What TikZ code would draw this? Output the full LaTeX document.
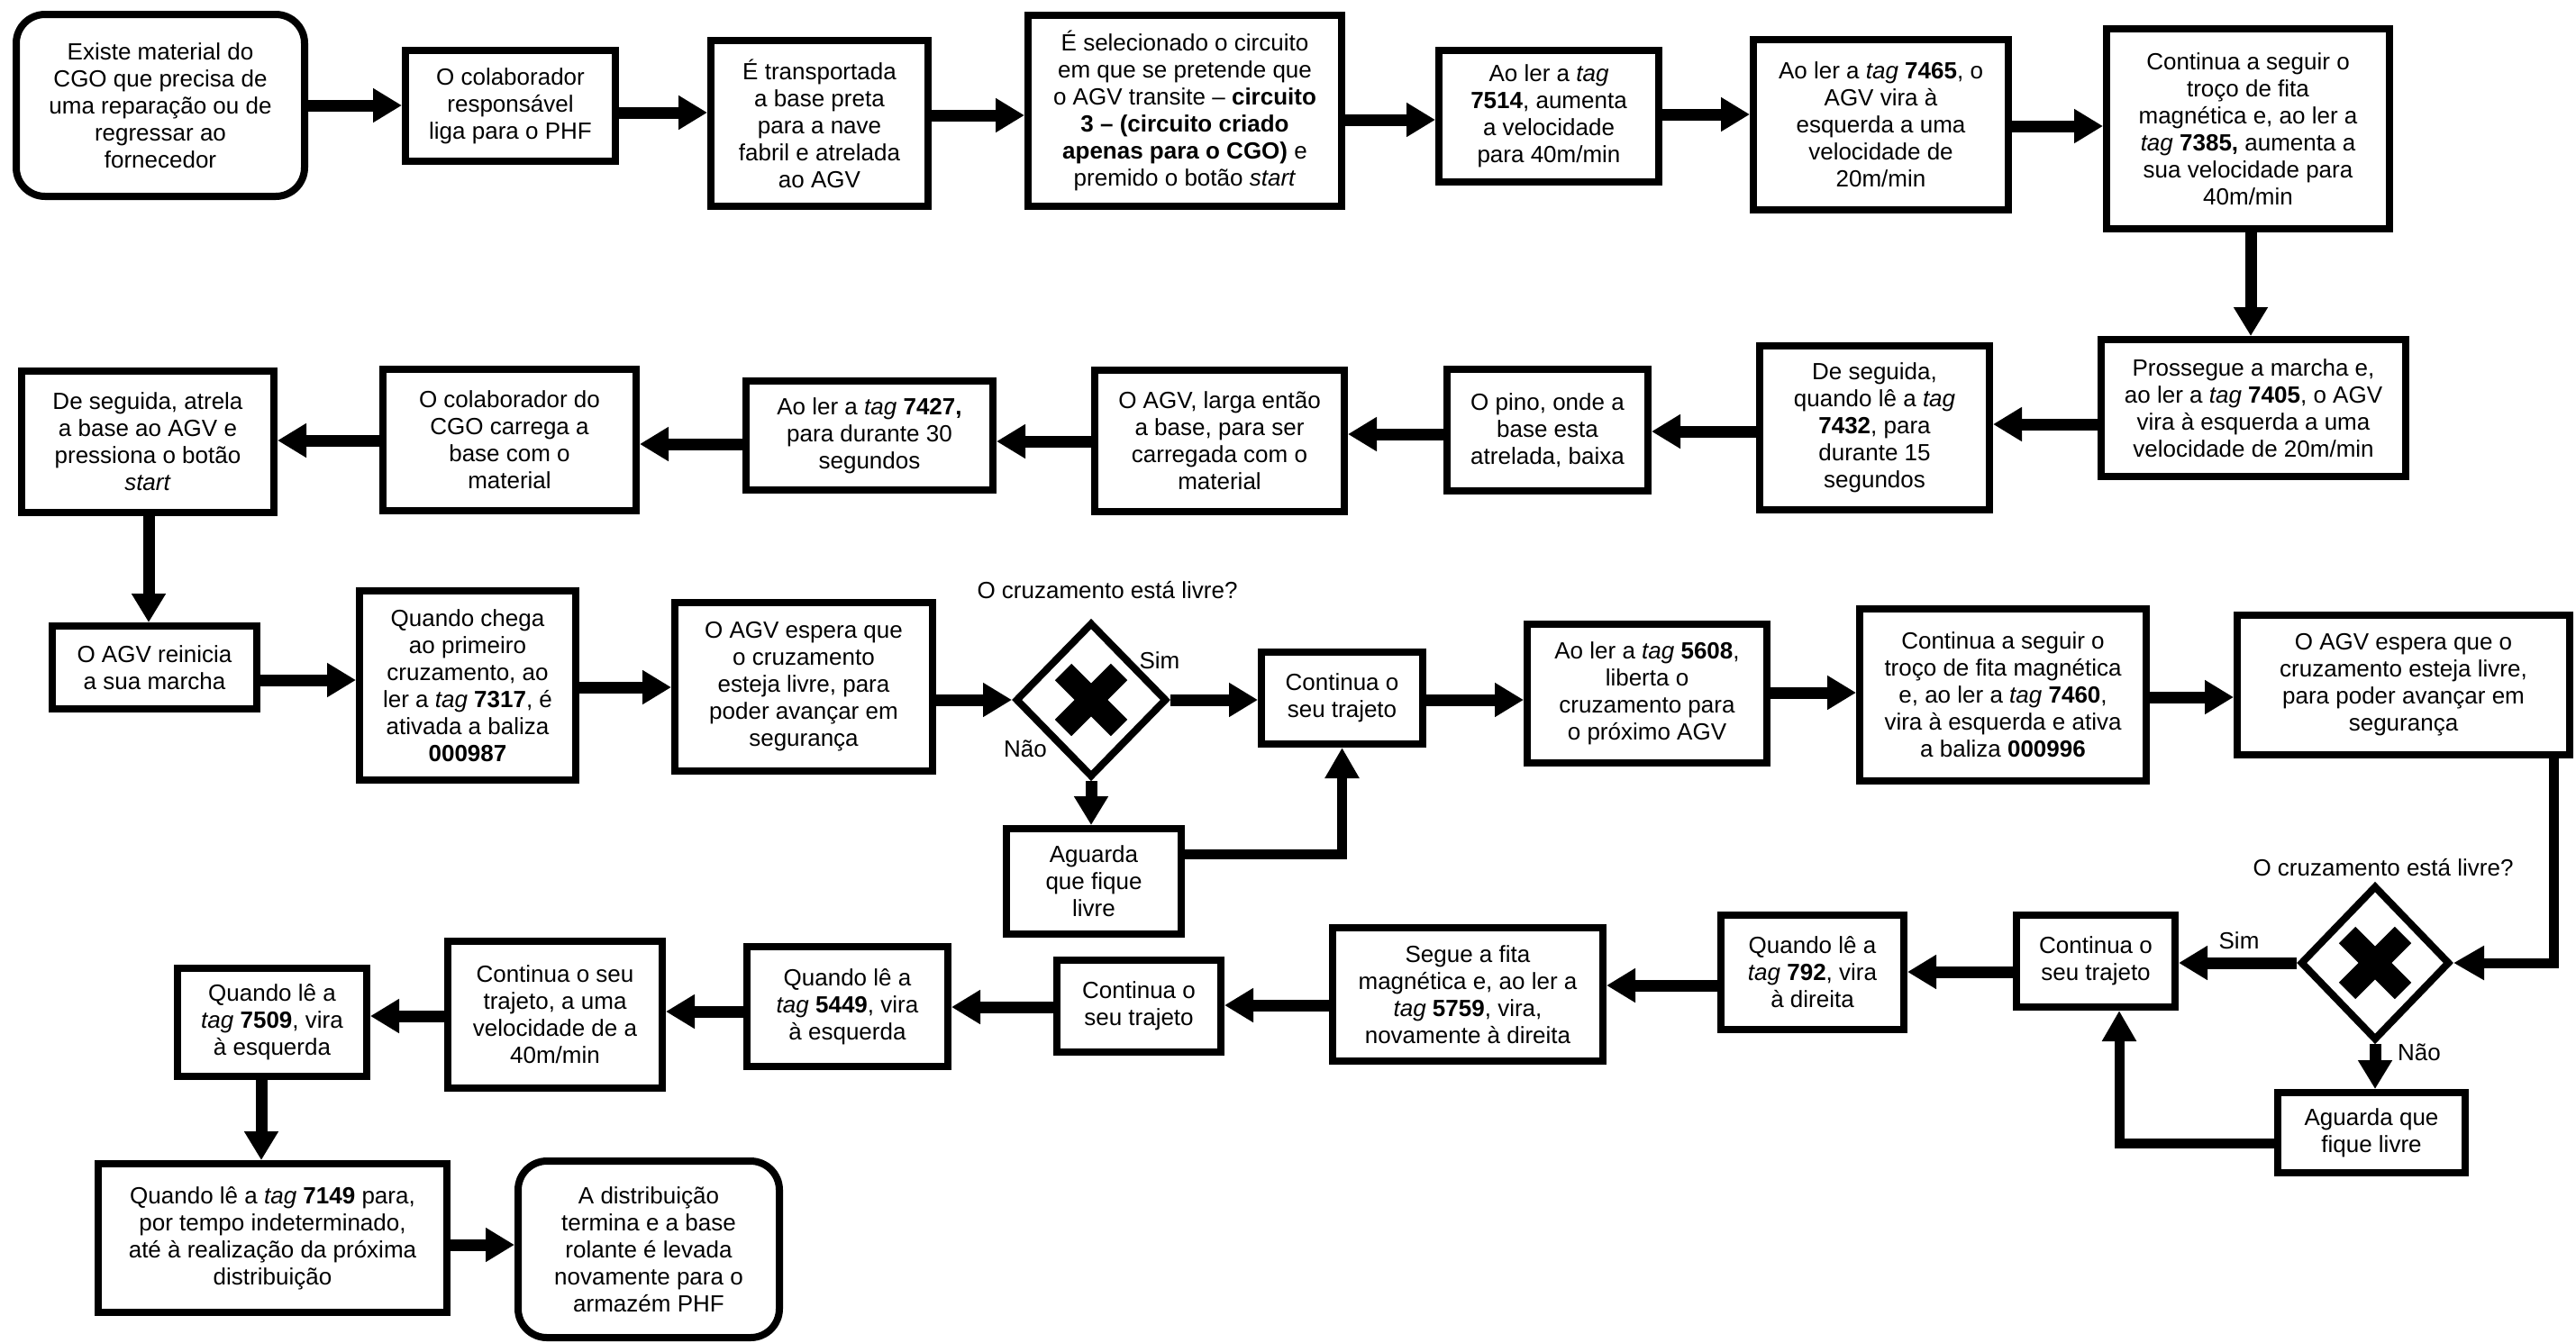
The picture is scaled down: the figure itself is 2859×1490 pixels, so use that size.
\documentclass[tikz,border=0pt]{standalone}
\usepackage{fontspec}
\setmainfont{Liberation Sans}
\usetikzlibrary{arrows.meta,shapes.geometric}
\begin{document}
\begin{tikzpicture}[x=0.5pt,y=-0.5pt,
  txt/.style={font=\fontsize{13pt}{15pt}\selectfont, align=center, inner sep=0pt},
  box/.style={txt, draw, line width=4pt},
  rbox/.style={box, rounded corners=16pt},
  gate/.style={draw, diamond, line width=4pt, inner sep=0pt},
  gatex/.style={line width=13pt},
  arrowflow/.style={line width=6.5pt, -{Triangle[length=16pt,width=18pt]}},
  backflow/.style={line width=5.5pt, -{Triangle[length=17pt,width=18pt]}},
]
\fill[white] (0,0) rectangle (2859,1490);
\useasboundingbox (0,0) rectangle (2859,1490);

% ---------- first row ----------
\node[rbox, minimum width=160pt, minimum height=101pt] (n1) at (178,117)
  {Existe material do\\CGO que precisa de\\uma reparação ou de\\regressar ao\\fornecedor};
\node[box, minimum width=116.5pt, minimum height=61.5pt] (n2) at (566.5,117.5)
  {O colaborador\\responsável\\liga para o PHF};
\node[box, minimum width=120.5pt, minimum height=92pt] (n3) at (909.5,137)
  {É transportada\\a base preta\\para a nave\\fabril e atrelada\\ao AGV};
\node[box, minimum width=174pt, minimum height=106pt] (n4) at (1315,123)
  {É selecionado o circuito\\em que se pretende que\\o AGV transite -- \textbf{circuito}\\\textbf{3 -- (circuito criado}\\\textbf{apenas para o CGO)} e\\premido o botão \textit{start}};
\node[box, minimum width=122pt, minimum height=73pt] (n5) at (1719,129)
  {Ao ler a \textit{tag}\\\textbf{7514}, aumenta\\a velocidade\\para 40m/min};
\node[box, minimum width=141.5pt, minimum height=94.5pt] (n6) at (2087.5,138.5)
  {Ao ler a \textit{tag} \textbf{7465}, o\\AGV vira à\\esquerda a uma\\velocidade de\\20m/min};
\node[box, minimum width=157pt, minimum height=111pt] (n7) at (2495,143)
  {Continua a seguir o\\troço de fita\\magnética e, ao ler a\\\textit{tag} \textbf{7385,} aumenta a\\sua velocidade para\\40m/min};

% ---------- second row ----------
\node[box, minimum width=169pt, minimum height=76pt] (n8) at (2501,453)
  {Prossegue a marcha e,\\ao ler a \textit{tag} \textbf{7405}, o AGV\\vira à esquerda a uma\\velocidade de 20m/min};
\node[box, minimum width=127.5pt, minimum height=91pt] (n9) at (2080.5,475)
  {De seguida,\\quando lê a \textit{tag}\\\textbf{7432}, para\\durante 15\\segundos};
\node[box, minimum width=111.5pt, minimum height=67.5pt] (n10) at (1717.5,477.5)
  {O pino, onde a\\base esta\\atrelada, baixa};
\node[box, minimum width=138.5pt, minimum height=78.5pt] (n11) at (1353.5,489.5)
  {O AGV, larga então\\a base, para ser\\carregada com o\\material};
\node[box, minimum width=137pt, minimum height=60.5pt] (n12) at (965,483.5)
  {Ao ler a \textit{tag} \textbf{7427,}\\para durante 30\\segundos};
\node[box, minimum width=140.5pt, minimum height=78.5pt] (n13) at (565.5,488.5)
  {O colaborador do\\CGO carrega a\\base com o\\material};
\node[box, minimum width=140pt, minimum height=78.5pt] (n14) at (164,490.5)
  {De seguida, atrela\\a base ao AGV e\\pressiona o botão\\\textit{start}};

% ---------- third row ----------
\node[box, minimum width=113.5pt, minimum height=46pt] (n15) at (171.5,741)
  {O AGV reinicia\\a sua marcha};
\node[box, minimum width=120pt, minimum height=105pt] (n16) at (519,761)
  {Quando chega\\ao primeiro\\cruzamento, ao\\ler a \textit{tag} \textbf{7317}, é\\ativada a baliza\\\textbf{000987}};
\node[box, minimum width=143pt, minimum height=93.5pt] (n17) at (892,762.5)
  {O AGV espera que\\o cruzamento\\esteja livre, para\\poder avançar em\\segurança};
\node[gate, minimum width=84pt, minimum height=86pt] (d1) at (1211,777) {};
\draw[gatex] (d1.center) ++(-31,-31) -- ++(62,62);
\draw[gatex] (d1.center) ++(-31,31) -- ++(62,-62);
\node[box, minimum width=97pt, minimum height=58.5pt] (n18) at (1214,978.5)
  {Aguarda\\que fique\\livre};
\node[box, minimum width=89.5pt, minimum height=51pt] (n19) at (1489.5,775)
  {Continua o\\seu trajeto};
\node[box, minimum width=133pt, minimum height=77pt] (n20) at (1828,770)
  {Ao ler a \textit{tag} \textbf{5608},\\liberta o\\cruzamento para\\o próximo AGV};
\node[box, minimum width=159pt, minimum height=95.5pt] (n21) at (2223,771.5)
  {Continua a seguir o\\troço de fita magnética\\e, ao ler a \textit{tag} \textbf{7460},\\vira à esquerda e ativa\\a baliza \textbf{000996}};
\node[box, minimum width=184.5pt, minimum height=77.5pt] (n22) at (2667.5,760.5)
  {O AGV espera que o\\cruzamento esteja livre,\\para poder avançar em\\segurança};

% ---------- fourth row ----------
\node[gate, minimum width=83pt, minimum height=86pt] (d2) at (2636,1069) {};
\draw[gatex] (d2.center) ++(-31,-31) -- ++(62,62);
\draw[gatex] (d2.center) ++(-31,31) -- ++(62,-62);
\node[box, minimum width=88pt, minimum height=51pt] (n23) at (2326,1067)
  {Continua o\\seu trajeto};
\node[box, minimum width=104pt, minimum height=44.5pt] (n24) at (2632,1257.5)
  {Aguarda que\\fique livre};
\node[box, minimum width=101.5pt, minimum height=63.5pt] (n25) at (2011.5,1079.5)
  {Quando lê a\\\textit{tag} \textbf{792}, vira\\à direita};
\node[box, minimum width=150pt, minimum height=74pt] (n26) at (1629,1104)
  {Segue a fita\\magnética e, ao ler a\\\textit{tag} \textbf{5759}, vira,\\novamente à direita};
\node[box, minimum width=91pt, minimum height=51pt] (n27) at (1264,1117)
  {Continua o\\seu trajeto};
\node[box, minimum width=111.5pt, minimum height=66.5pt] (n28) at (940.5,1117.5)
  {Quando lê a\\\textit{tag} \textbf{5449}, vira\\à esquerda};
\node[box, minimum width=119pt, minimum height=81.5pt] (n29) at (616,1126.5)
  {Continua o seu\\trajeto, a uma\\velocidade de a\\40m/min};
\node[box, minimum width=105pt, minimum height=60pt] (n30) at (302,1135)
  {Quando lê a\\\textit{tag} \textbf{7509}, vira\\à esquerda};

% ---------- last row ----------
\node[box, minimum width=193.5pt, minimum height=82.5pt] (n31) at (302.5,1374.5)
  {Quando lê a \textit{tag} \textbf{7149} para,\\por tempo indeterminado,\\até à realização da próxima\\distribuição};
\node[rbox, minimum width=145pt, minimum height=98pt] (n32) at (720,1387)
  {A distribuição\\termina e a base\\rolante é levada\\novamente para o\\armazém PHF};

% ---------- gateway labels ----------
\node[txt, anchor=base] (q1) at (1229,664) {O cruzamento está livre?};
\node[txt, anchor=base] (s1) at (1287,742) {Sim};
\node[txt, anchor=base] (a1) at (1138,840) {Não};
\node[txt, anchor=base] (q2) at (2645,972) {O cruzamento está livre?};
\node[txt, anchor=base] (s2) at (2485,1053) {Sim};
\node[txt, anchor=base] (a2) at (2685,1177) {Não};

% ---------- connectors ----------
\draw[arrowflow] (n1.east) -- (n2.west |- n1.east);
\draw[arrowflow] (n2.east |- 0,125) -- (n3.west |- 0,125);
\draw[arrowflow] (n3.east |- 0,128) -- (n4.west |- 0,128);
\draw[arrowflow] (n4.east |- 0,133) -- (n5.west |- 0,133);
\draw[arrowflow] (n5.east |- 0,127) -- (n6.west |- 0,127);
\draw[arrowflow] (n6.east |- 0,140) -- (n7.west |- 0,140);
\draw[arrowflow] (n7.south -| 2498,0) -- (n8.north -| 2498,0);

\draw[arrowflow] (n8.west |- 0,471) -- (n9.east |- 0,471);
\draw[arrowflow] (n9.west |- 0,479) -- (n10.east |- 0,479);
\draw[arrowflow] (n10.west |- 0,482) -- (n11.east |- 0,482);
\draw[arrowflow] (n11.west |- 0,490) -- (n12.east |- 0,490);
\draw[arrowflow] (n12.west |- 0,493) -- (n13.east |- 0,493);
\draw[arrowflow] (n13.west |- 0,489) -- (n14.east |- 0,489);
\draw[arrowflow] (n14.south -| 165,0) -- (n15.north -| 165,0);

\draw[arrowflow] (n15.east |- 0,755) -- (n16.west |- 0,755);
\draw[arrowflow] (n16.east |- 0,763) -- (n17.west |- 0,763);
\draw[arrowflow] (n17.east |- d1.west) -- (d1.west);
\draw[arrowflow] (d1.east) -- (n19.west |- d1.east);
\draw[arrowflow] (d1.south) -- (n18.north -| d1.south);
\draw[backflow] (n18.east |- 0,948) -| (n19.south);
\draw[arrowflow] (n19.east |- 0,777) -- (n20.west |- 0,777);
\draw[arrowflow] (n20.east |- 0,769) -- (n21.west |- 0,769);
\draw[arrowflow] (n21.east |- 0,774) -- (n22.west |- 0,774);
\draw[backflow] (n22.south -| 2834,0) |- (d2.east);

\draw[arrowflow] (d2.west) -- (n23.east |- d2.west);
\draw[arrowflow] (d2.south) -- (n24.north -| d2.south);
\draw[backflow] (n24.west |- 0,1269) -| (n23.south -| 2352,0);
\draw[arrowflow] (n23.west |- 0,1079) -- (n25.east |- 0,1079);
\draw[arrowflow] (n25.west |- 0,1094) -- (n26.east |- 0,1094);
\draw[arrowflow] (n26.west |- 0,1116) -- (n27.east |- 0,1116);
\draw[arrowflow] (n27.west |- 0,1118) -- (n28.east |- 0,1118);
\draw[arrowflow] (n28.west |- 0,1123) -- (n29.east |- 0,1123);
\draw[arrowflow] (n29.west |- 0,1128) -- (n30.east |- 0,1128);
\draw[arrowflow] (n30.south -| 290,0) -- (n31.north -| 290,0);
\draw[arrowflow] (n31.east |- 0,1382) -- (n32.west |- 0,1382);
\end{tikzpicture}
\end{document}
